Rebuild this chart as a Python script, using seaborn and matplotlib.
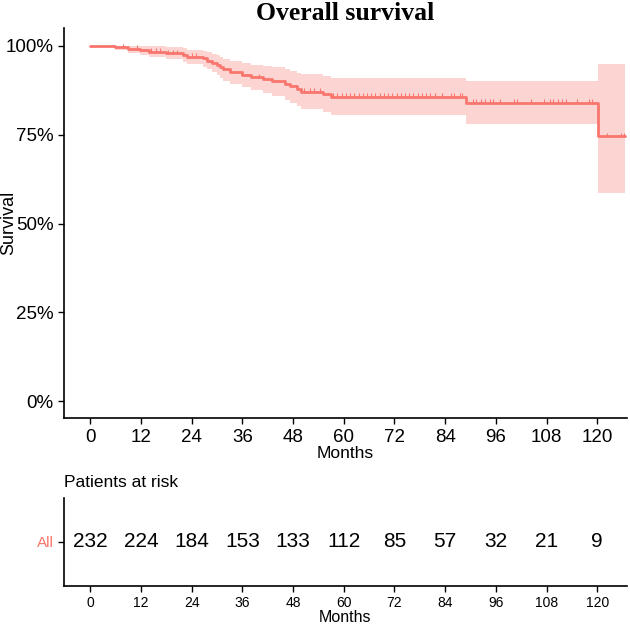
import numpy as np
import pandas as pd
import matplotlib
matplotlib.use('Agg')
import matplotlib.pyplot as plt
import seaborn as sns
from matplotlib.ticker import PercentFormatter

# Kaplan-Meier estimate (months, survival, 95% CI)
event_months = [0, 5.9, 9, 11.8, 14, 18, 22, 23, 26.7, 27.6, 28.8, 30, 30.7, 31.5, 33, 36, 38,
                40.9, 43, 46, 47.2, 49, 50, 55, 57, 89, 120.2, 126.5]
survival = [1.0, 0.996, 0.992, 0.988, 0.984, 0.980, 0.975, 0.970, 0.965, 0.959, 0.953, 0.947, 0.941,
            0.934, 0.926, 0.919, 0.912, 0.906, 0.900, 0.893, 0.886, 0.878, 0.871, 0.864, 0.857, 0.840,
            0.746, 0.746]
lower_ci = [1.0, 0.988, 0.980, 0.974, 0.968, 0.962, 0.955, 0.948, 0.942, 0.934, 0.926, 0.918, 0.910,
            0.902, 0.893, 0.884, 0.875, 0.867, 0.858, 0.849, 0.840, 0.831, 0.823, 0.814, 0.806, 0.780,
            0.587, 0.587]
upper_ci = [1.0, 1.0, 1.0, 1.0, 0.999, 0.997, 0.994, 0.990, 0.987, 0.983, 0.978, 0.974, 0.969,
            0.964, 0.957, 0.951, 0.946, 0.945, 0.940, 0.934, 0.929, 0.924, 0.920, 0.915, 0.911, 0.902,
            0.949, 0.949]

# censored observations (tick marks)
censor_months = [7.8, 11, 14.5, 15.5, 16.5, 18.5, 19.5, 20.5, 24, 25, 40, 50.5, 52, 53, 54.3,
                 57.5, 58.5, 59.5, 60.5, 61.5, 62.5, 63.5, 64.5, 65.5, 66.5, 67.5, 68.5, 69.5, 70.5,
                 71.5, 72.5, 73.5, 74.5, 75.5, 76.5, 77.5, 78.5, 79.5, 80.5, 81.5, 83.2, 85.5, 86.2,
                 87.4, 88.1, 90.5, 91.4, 92.4, 93.5, 94.5, 95.4, 96.9, 100.4, 101.1, 104.4, 107.5,
                 108.7, 109.6, 110.6, 111.7, 112.7, 115.3, 118.1, 118.8, 122.4, 125.7, 126.4]

risk_months = [0, 12, 24, 36, 48, 60, 72, 84, 96, 108, 120]
at_risk = [232, 224, 184, 153, 133, 112, 85, 57, 32, 21, 9]

km = pd.DataFrame({'Months': event_months, 'Survival': survival,
                   'lower': lower_ci, 'upper': upper_ci})

sns.set_theme(style='ticks')
plt.rcParams['font.family'] = ['Liberation Sans', 'DejaVu Sans']
plt.rcParams['text.color'] = 'black'
plt.rcParams['axes.labelcolor'] = 'black'

red = '#F8766D'
xlim = (-6.2, 127)

fig = plt.figure(figsize=(6.3, 6.27), dpi=100)
ax = fig.add_axes([0.1016, 0.333, 0.8934, 0.622])
ax_tab = fig.add_axes([0.1016, 0.066, 0.8934, 0.14])

# survival curve
ax.fill_between(km['Months'], km['lower'], km['upper'], step='post',
                color=red, alpha=0.3, lw=0)
sns.lineplot(data=km, x='Months', y='Survival', drawstyle='steps-post',
             color=red, lw=2, ax=ax, estimator=None)
idx = np.searchsorted(event_months, censor_months, side='right') - 1
ax.scatter(censor_months, np.array(survival)[idx] + 0.004, marker='|', s=12,
           color=red, lw=0.8, zorder=3)

ax.set_xlim(*xlim)
ax.set_ylim(-0.048, 1.05)
ax.set_xticks(risk_months)
ax.set_yticks([0, 0.25, 0.5, 0.75, 1.0])
ax.yaxis.set_major_formatter(PercentFormatter(1.0, decimals=0))
ax.tick_params(labelsize=13.5, color='black', length=4, width=1, labelcolor='black')
ax.set_xlabel('Months', fontsize=12.5, labelpad=0)
ax.set_ylabel('Survival', fontsize=13)
ax.yaxis.set_label_coords(-0.084, 0.5)
for sp in ['left', 'bottom']:
    ax.spines[sp].set_color('black')
    ax.spines[sp].set_linewidth(1.2)
sns.despine(ax=ax)
fig.text(0.5484, 0.979, 'Overall survival', ha='center', va='center', fontsize=18.5,
         fontweight='bold', family=['Liberation Serif', 'DejaVu Serif'])

# number at risk table
for m, n in zip(risk_months, at_risk):
    ax_tab.text(m, 0, str(n), ha='center', va='center', fontsize=15)
ax_tab.set_xlim(*xlim)
ax_tab.set_ylim(-0.5, 0.5)
ax_tab.set_xticks(risk_months)
ax_tab.set_yticks([0])
ax_tab.set_yticklabels(['All'], color=red, fontsize=11)
ax_tab.tick_params(axis='x', labelsize=10, color='black', length=4, width=1, labelcolor='black')
ax_tab.tick_params(axis='y', color='black', length=4, width=1)
ax_tab.set_xlabel('Months', fontsize=11.5, labelpad=0)
ax_tab.set_title('Patients at risk', loc='left', fontsize=12.5, pad=8)
for sp in ['left', 'bottom']:
    ax_tab.spines[sp].set_color('black')
    ax_tab.spines[sp].set_linewidth(1.2)
sns.despine(ax=ax_tab)

fig.savefig('out.png', dpi=100)
